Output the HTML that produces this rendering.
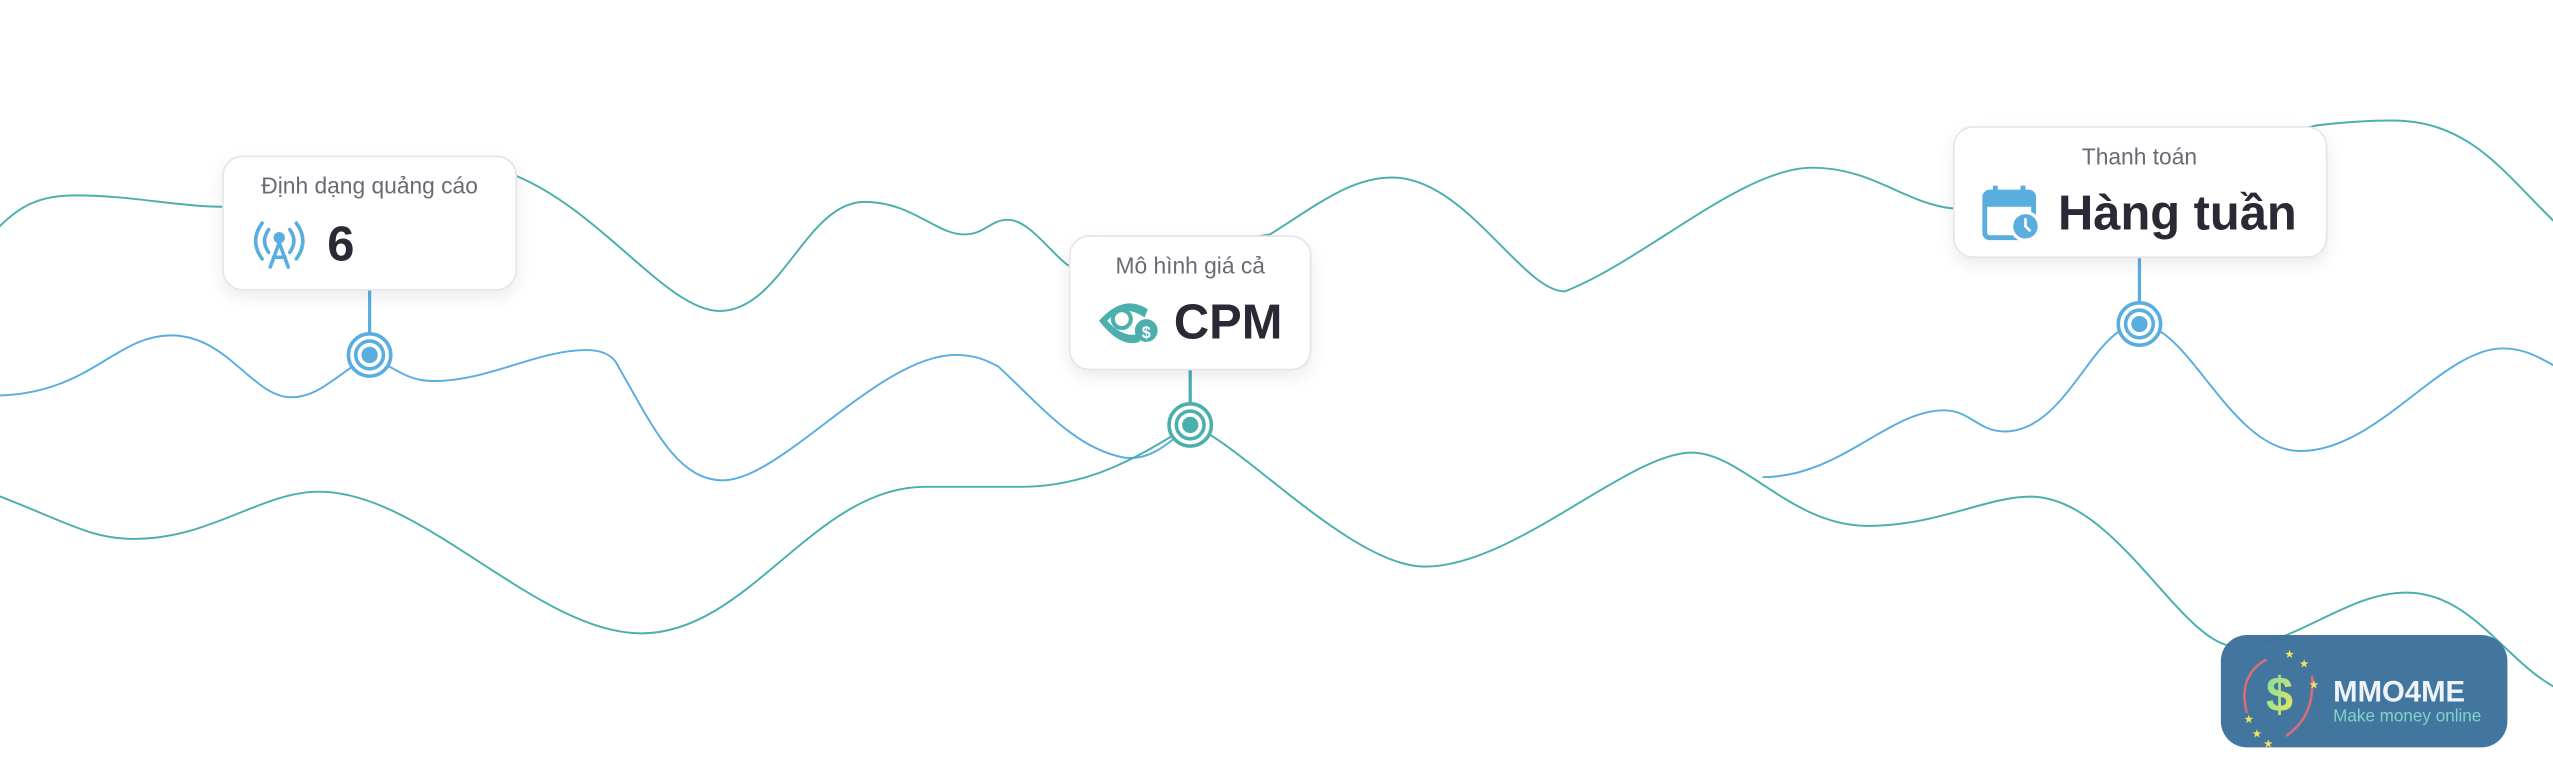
<!DOCTYPE html>
<html><head><meta charset="utf-8"><style>
html,body{margin:0;padding:0;background:#fff;}
svg{display:block;}
text{font-family:"Liberation Sans",sans-serif;}
</style></head><body>
<svg width="2553" height="761" viewBox="0 0 1568 467.4" preserveAspectRatio="none" xmlns="http://www.w3.org/2000/svg">
<defs>
<filter id="sh" x="-20%" y="-20%" width="140%" height="160%"><feDropShadow dx="0" dy="4" stdDeviation="5" flood-color="#000" flood-opacity="0.08"/></filter>
<linearGradient id="dg" x1="0" y1="0" x2="1" y2="1"><stop offset="0" stop-color="#7be0a0"/><stop offset="1" stop-color="#f2e45a"/></linearGradient>
</defs>
<g fill="none" stroke-width="1.2" stroke-linecap="round">
<path stroke="#4bb0ad" d="M -10 150 C 10 125, 25 120, 47 120 C 80 120, 110 127, 137 127 L 317 108 C 370 130, 410 191, 442 191 C 480 191, 495 124, 531 124 C 560 124, 575 144, 592 144 C 605 144, 608 135, 619 135 C 632 135, 645 155, 656 163 L 780 144 C 810 125, 830 109, 855 109 C 900 109, 935 179, 961 179 C 1010 160, 1070 103, 1113 103 C 1150 103, 1170 125, 1199 128 L 1423 77 C 1440 75, 1455 74, 1469 74 C 1520 74, 1540 110, 1575 142"/>
<path stroke="#5aaedf" d="M -5 243 C 55 243, 70 206, 105 206 C 140 206, 155 244, 179 244 C 195 244, 205 232, 227 218 C 250 232, 255 234, 267 234 C 300 234, 330 215, 360 215 C 370 215, 375 218, 378 222 C 400 260, 415 295, 444 295 C 480 295, 540 218, 587 218 C 600 218, 607 222, 613 225 C 640 250, 660 275, 690 281 C 705 283, 715 275, 731 261"/>
<path stroke="#5aaedf" d="M 1083 293 C 1130 293, 1160 252, 1194 252 C 1210 252, 1215 265, 1231 265 C 1270 265, 1285 200, 1314 199 C 1345 200, 1370 277, 1413 277 C 1460 277, 1500 214, 1537 214 C 1552 214, 1560 220, 1575 228"/>
<path stroke="#4bb0ad" d="M -5 303 C 40 320, 55 331, 82 331 C 130 331, 160 302, 196 302 C 260 302, 330 389, 394 389 C 460 389, 500 299, 568 299 L 627 299 C 670 299, 700 280, 731 261 C 760 270, 830 348, 875 348 C 930 348, 1000 278, 1039 278 C 1070 278, 1100 323, 1147 323 C 1190 323, 1220 305, 1247 305 C 1300 305, 1340 397, 1373 397 C 1410 397, 1440 364, 1478 364 C 1520 364, 1540 410, 1575 425"/>
</g>
<!-- connectors -->
<line x1="227" y1="178" x2="227" y2="205" stroke="#5aaedf" stroke-width="2"/>
<line x1="731" y1="227" x2="731" y2="248" stroke="#4bb0ad" stroke-width="2"/>
<line x1="1314" y1="158" x2="1314" y2="186" stroke="#5aaedf" stroke-width="2"/>
<!-- nodes -->
<g fill="#fff" stroke-width="2.2">
<circle cx="227" cy="218" r="13" stroke="#5aaedf"/><circle cx="227" cy="218" r="8.5" stroke="#5aaedf"/>
<circle cx="731" cy="261" r="13" stroke="#4bb0ad"/><circle cx="731" cy="261" r="8.5" stroke="#4bb0ad"/>
<circle cx="1314" cy="199" r="13" stroke="#5aaedf"/><circle cx="1314" cy="199" r="8.5" stroke="#5aaedf"/>
</g>
<circle cx="227" cy="218" r="5" fill="#5aaedf"/>
<circle cx="731" cy="261" r="5" fill="#4bb0ad"/>
<circle cx="1314" cy="199" r="5" fill="#5aaedf"/>
<!-- cards -->
<g filter="url(#sh)" fill="#fff" stroke="#e4e4ea" stroke-width="1">
<rect x="137" y="96" width="180" height="82" rx="12"/>
<rect x="657" y="145" width="148" height="82" rx="12"/>
<rect x="1200" y="78" width="229" height="80" rx="12"/>
</g>
<text x="227" y="119" font-size="14" fill="#6a6a76" text-anchor="middle">Định dạng quảng cáo</text>
<text x="201" y="160" font-size="30" font-weight="bold" fill="#2a2a36">6</text>
<text x="731" y="168" font-size="14" fill="#6a6a76" text-anchor="middle">Mô hình giá cả</text>
<text x="721" y="208" font-size="30" font-weight="bold" fill="#2a2a36">CPM</text>
<text x="1314" y="101" font-size="14" fill="#6a6a76" text-anchor="middle">Thanh toán</text>
<text x="1264" y="141" font-size="30" font-weight="bold" fill="#2a2a36">Hàng tuần</text>
<!-- antenna icon -->
<g stroke="#5aaedf" fill="none" stroke-width="2.2" stroke-linecap="round">
<path d="M 161 137 Q 153 148 161 159"/><path d="M 165 141 Q 160 148 165 155"/>
<path d="M 182 137 Q 190 148 182 159"/><path d="M 178 141 Q 183 148 178 155"/>
<path d="M 171.5 149 L 166 164 M 171.5 149 L 177 164 M 168 158 L 175 158"/>
</g>
<circle cx="171.5" cy="146" r="3.5" fill="#5aaedf"/>
<!-- eye icon -->
<g>
<path d="M 675 197 Q 690 180 705 190 L 703 195 Q 690 186 680 197 Q 690 208 700 205 L 700 210 Q 688 214 675 197 Z" fill="#4bb0ad"/>
<circle cx="689" cy="196" r="5.5" fill="none" stroke="#4bb0ad" stroke-width="2.5"/>
<circle cx="704" cy="203" r="7" fill="#4bb0ad"/>
<text x="704" y="207.5" font-size="10" font-weight="bold" fill="#fff" text-anchor="middle">$</text>
</g>
<!-- calendar icon -->
<g>
<rect x="1219" y="118" width="30" height="28" rx="3" fill="none" stroke="#5aaedf" stroke-width="3"/>
<rect x="1219" y="118" width="30" height="9" fill="#5aaedf"/>
<rect x="1224" y="114" width="3" height="7" fill="#5aaedf"/><rect x="1241" y="114" width="3" height="7" fill="#5aaedf"/>
<circle cx="1244" cy="139" r="8.5" fill="#5aaedf" stroke="#fff" stroke-width="2"/>
<path d="M 1244 134 L 1244 139 L 1247 142" stroke="#fff" stroke-width="1.6" fill="none"/>
</g>
<!-- logo -->
<rect x="1364" y="390" width="176" height="69" rx="16" fill="#3d729c" opacity="0.97"/>
<path d="M 1392 405 Q 1374 415 1380 438" stroke="#e06a7a" stroke-width="1.5" fill="none"/>
<path d="M 1404 452 Q 1422 440 1420 415" stroke="#e06a7a" stroke-width="1.5" fill="none"/>
<text x="1400" y="437" font-size="30" font-weight="bold" fill="url(#dg)" text-anchor="middle">$</text>
<g fill="#f3e35a" font-size="7">
<text x="1403" y="404">★</text><text x="1412" y="410">★</text><text x="1418" y="423">★</text>
<text x="1378" y="444">★</text><text x="1383" y="453">★</text><text x="1390" y="459">★</text>
</g>
<text x="1433" y="431" font-size="18" font-weight="bold" fill="#eef3f8">MMO4ME</text>
<text x="1433" y="443" font-size="10.5" fill="#82d3c6">Make money online</text>
</svg>
</body></html>
